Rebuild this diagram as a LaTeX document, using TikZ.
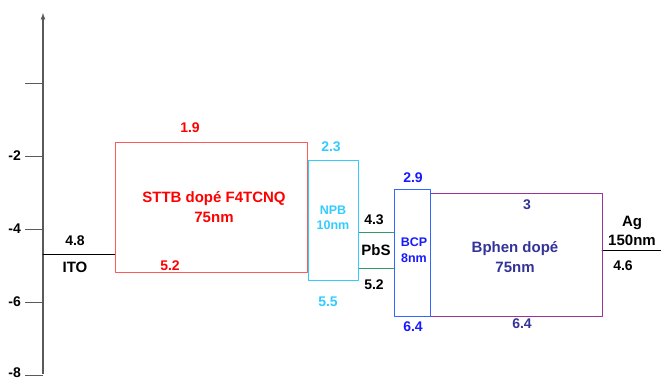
\documentclass[tikz,border=0pt]{standalone}
\usepackage{fontspec}
\setmainfont{Liberation Sans}
\usetikzlibrary{arrows,calc}
\usepackage{tkz-euclide}
\definecolor{SttbClr}{RGB}{255,0,0}
\definecolor{SttbLineClr}{RGB}{255,90,90}
\definecolor{NpbClr}{RGB}{51,204,255}
\definecolor{PbsClr}{RGB}{51,153,102}
\definecolor{BcpClr}{RGB}{51,102,255}
\definecolor{BcpTxtClr}{RGB}{25,25,255}
\definecolor{BphenClr}{RGB}{153,51,153}
\definecolor{BphenTxtClr}{RGB}{51,51,153}
\definecolor{AxisClr}{RGB}{90,90,90}

\tikzset{
  val/.style={font=\bfseries\fontsize{14}{19}\selectfont, inner sep=0pt, align=center},
  layname/.style={font=\bfseries\fontsize{15}{19.5}\selectfont, inner sep=0pt, align=center},
  thinlay/.style={font=\bfseries\fontsize{12.5}{15.5}\selectfont, inner sep=0pt, align=center}
}

\begin{document}
\begin{tikzpicture}[x=1pt,y=1pt]
\useasboundingbox (0,0) rectangle (661,378);
\tkzSetUpLine[line width=0.8pt,color=black]

% energy axis
\tkzDefPoints{43/4/Y0, 43/365/Y1}
\draw[AxisClr,line width=1.2pt,-latex] (Y0) -- (Y1);
\foreach \y/\ly/\t in {295/295/,222/222/-2,149/149/-4,76/76/-6,3/5/-8}{
  \draw[AxisClr,line width=0.8pt] (25,\y) -- (43,\y);
  \node[val,anchor=east] (tick\y) at (21,\ly) {\t};
}

% layers
\tkzDefPoints{115/106/S1, 307/106/S2, 307/236/S3, 115/236/S4}
\tkzDefPoints{308/98/N1, 358/98/N2, 358/218/N3, 308/218/N4}
\tkzDefPoints{358/110/P1, 394/110/P2, 394/146/P3, 358/146/P4}
\tkzDefPoints{394/62/C1, 430/62/C2, 430/189/C3, 394/189/C4}
\tkzDefPoints{430/62/B1, 602/62/B2, 602/185/B3, 430/185/B4}
\tkzDefPoints{43/124/I1, 115/124/I2, 602/128/A1, 661/128/A2}

\tkzDrawSegments(I1,I2 A1,A2)

\tkzDrawPolygon[color=SttbLineClr](S1,S2,S3,S4)
\tkzDrawPolygon[color=PbsClr](P1,P2,P3,P4)
\tkzDrawPolygon[color=NpbClr](N1,N2,N3,N4)
\tkzDrawPolygon[color=BphenClr](B1,B2,B3,B4)
\tkzDrawPolygon[color=BcpClr](C1,C2,C3,C4)

% electrodes
\node[val] (ito) at (75,137) {4.8};
\node[layname] (itoName) at (75,111) {ITO};
\node[layname] (agName) at (632,147) {Ag\\150nm};
\node[val] (ag) at (623,112) {4.6};

% STTB
\node[val,SttbClr] (sttbLumo) at (190,250) {1.9};
\node[val,SttbClr] (sttbHomo) at (170,112) {5.2};
\node[layname,SttbClr] (sttbName) at (214,171) {STTB dopé F4TCNQ\\75nm};

% NPB
\node[val,NpbClr] (npbLumo) at (331,231) {2.3};
\node[val,NpbClr] (npbHomo) at (328,76) {5.5};
\node[thinlay,NpbClr] (npbName) at (333,160) {NPB\\10nm};

% PbS
\node[val] (pbsLumo) at (374,158) {4.3};
\node[layname] (pbsName) at (376,128) {PbS};
\node[val] (pbsHomo) at (374,93) {5.2};

% BCP
\node[val,BcpTxtClr] (bcpLumo) at (413,200) {2.9};
\node[val,BcpTxtClr] (bcpHomo) at (413,51) {6.4};
\node[thinlay,BcpTxtClr] (bcpName) at (414,128) {BCP\\8nm};

% Bphen
\node[val,BphenTxtClr] (bphenLumo) at (527,173) {3};
\node[val,BphenTxtClr] (bphenHomo) at (522,54) {6.4};
\node[layname,BphenTxtClr] (bphenName) at (515,121) {Bphen dopé\\75nm};

\end{tikzpicture}
\end{document}
